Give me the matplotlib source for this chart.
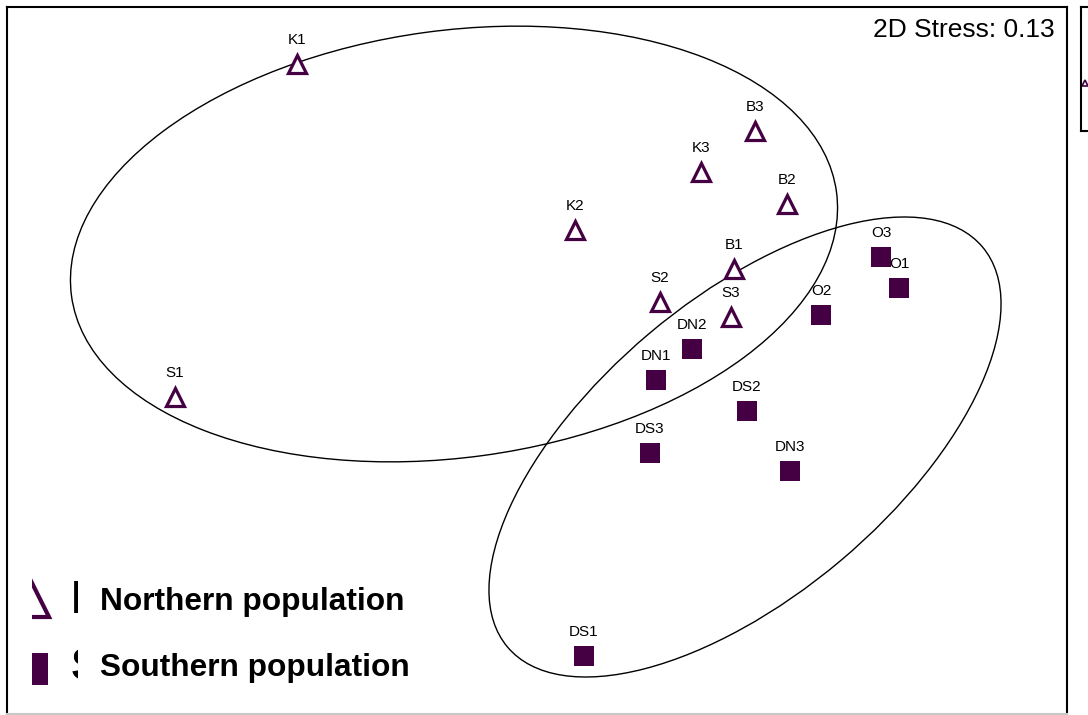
import matplotlib.pyplot as plt
from matplotlib.patches import Ellipse, Rectangle

plt.rcParams['font.family'] = ['Liberation Sans', 'DejaVu Sans']

# NMDS ordination positions (pixel-like units, y down)
north_labels = ['K1', 'B3', 'K3', 'B2', 'K2', 'B1', 'S2', 'S3', 'S1']
north_x = [297, 755, 701, 787, 575, 734, 660, 731, 175]
north_y = [64, 131, 172, 204, 230, 269, 302, 317, 397]

south_labels = ['O3', 'O1', 'O2', 'DN2', 'DN1', 'DS2', 'DS3', 'DN3', 'DS1']
south_x = [881, 899, 821, 692, 656, 747, 650, 790, 584]
south_y = [257, 288, 315, 349, 380, 411, 453, 471, 656]

# group ellipses: centre x, centre y, width, height, angle
ell_cx = [454, 745]
ell_cy = [244, 447]
ell_w = [772, 621]
ell_h = [427, 297]
ell_ang = [-7.75, -40.1]

legend_names = ['Northern population', 'Southern population']
stress = 0.13

PURPLE = '#440042'
W, H = 1088, 715

fig = plt.figure(figsize=(W / 100, H / 100), dpi=100)
ax = fig.add_axes([7 / W, 1 / H, 1060 / W, 707 / H])
ax.set_xlim(7, 1067)
ax.set_ylim(714, 7)
ax.set_xticks([])
ax.set_yticks([])
for side, sp in ax.spines.items():
    sp.set_linewidth(1.5)
    sp.set_color('black')
ax.spines['bottom'].set_color('#c8c8c8')

for cx, cy, w, h, a in zip(ell_cx, ell_cy, ell_w, ell_h, ell_ang):
    ax.add_patch(Ellipse((cx, cy), w, h, angle=a, fill=False,
                         edgecolor='black', linewidth=1.0, zorder=2))

ax.plot(north_x, north_y, linestyle='none', marker='^', ms=13.5,
        mfc='white', mec=PURPLE, mew=2.3, zorder=3)
ax.plot(south_x, south_y, linestyle='none', marker='s', ms=13.7,
        mfc=PURPLE, mec=PURPLE, mew=0, zorder=3)

for lab, x, y in zip(north_labels + south_labels, north_x + south_x, north_y + south_y):
    ax.annotate(lab, (x, y), xytext=(0, 17.5), textcoords='offset points',
                ha='center', va='center', fontsize=11, zorder=2)

ax.text(1055, 30, f'2D Stress: {stress}', ha='right', va='center', fontsize=19)

# legend: markers half hidden, original text covered by the bold labels
clip = Rectangle((32, 7), 300, 707, transform=ax.transData)
m1, = ax.plot([32], [600], linestyle='none', marker='^', ms=25,
              mfc='white', mec=PURPLE, mew=3, zorder=4)
m2, = ax.plot([32], [669], linestyle='none', marker='s', ms=23,
              mfc=PURPLE, mec=PURPLE, mew=0, zorder=4)
m1.set_clip_path(clip)
m2.set_clip_path(clip)

for name, y in zip(legend_names, [601, 668]):
    ax.text(71, y, name[0], fontsize=34, fontweight='bold',
            ha='left', va='center', zorder=4)
ax.add_patch(Rectangle((77.5, 565), 80, 135, facecolor='white',
                       edgecolor='none', zorder=5))

ax.text(100, 602, legend_names[0], fontsize=22.8, fontweight='bold',
        ha='left', va='center', zorder=6)
ax.text(100, 668, legend_names[1], fontsize=22.8, fontweight='bold',
        ha='left', va='center', zorder=6)

# second panel peeking in at the right edge
ax2 = fig.add_axes([1081 / W, (715 - 131) / H, 30 / W, 124 / H])
ax2.set_xlim(0, 30)
ax2.set_ylim(124, 0)
ax2.set_xticks([])
ax2.set_yticks([])
for sp in ax2.spines.values():
    sp.set_linewidth(1.5)
ax2.plot([4], [76], linestyle='none', marker='^', ms=5,
         mfc='white', mec=PURPLE, mew=1.2)

fig.savefig('out.png', dpi=100)
